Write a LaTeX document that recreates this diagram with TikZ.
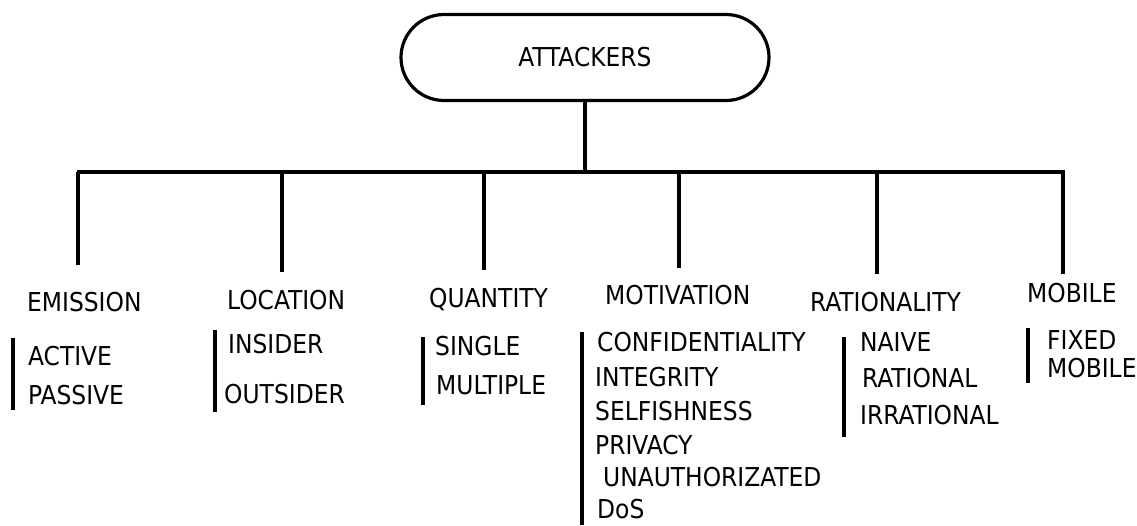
\documentclass[tikz,border=0pt]{standalone}
\usepackage{fontspec}
\setmainfont{DejaVu Sans Condensed}
\usetikzlibrary{shapes.misc}
\begin{document}
\begin{tikzpicture}[x=1pt,y=-1pt,
  txt/.style={anchor=west,inner sep=0pt,font=\fontsize{26}{29}\selectfont},
  wire/.style={line width=3.2pt},
  side/.style={line width=3.2pt},
  root/.style={rounded rectangle,draw,line width=3.2pt,minimum width=368pt,minimum height=86pt,inner sep=0pt,font=\fontsize{26}{29}\selectfont}]
\useasboundingbox (0,0) rectangle (1137,525);
% root
\node[root] (att) at (585,57.5) {ATTACKERS};
% bus
\coordinate (bus) at (585,172);
\coordinate (busL) at (76.5,172);
\coordinate (busR) at (1064.5,172);
\draw[wire] (att.south) -- (bus);
\draw[wire] (busL) -- (busR);
% category headings
\node[txt] (emi) at (27,302) {EMISSION};
\node[txt] (loc) at (227,300) {LOCATION};
\node[txt] (qua) at (429,300) {QUANTITY};
\node[txt] (mot) at (605,295) {MOTIVATION};
\node[txt] (rat) at (810,302) {RATIONALITY};
\node[txt] (mob) at (1027,293) {MOBILE};
% drops
\coordinate (d1) at (78,172);   \coordinate (e1) at (78,265);
\coordinate (d2) at (282,172);  \coordinate (e2) at (282,272);
\coordinate (d3) at (484,172);  \coordinate (e3) at (484,270);
\coordinate (d4) at (679,172);  \coordinate (e4) at (679,268);
\coordinate (d5) at (877,172);  \coordinate (e5) at (877,274);
\coordinate (d6) at (1063,172); \coordinate (e6) at (1063,274);
\foreach \i in {1,...,6} \draw[wire] (d\i) -- (e\i);
% emission
\node[txt] (act) at (28,356) {ACTIVE};
\node[txt] (pas) at (28,395) {PASSIVE};
\coordinate (s1a) at (13,338); \coordinate (s1b) at (13,410);
\draw[side] (s1a) -- (s1b);
% location
\node[txt] (ins) at (228,344) {INSIDER};
\node[txt] (out) at (224,394) {OUTSIDER};
\coordinate (s2a) at (215,330); \coordinate (s2b) at (215,412);
\draw[side] (s2a) -- (s2b);
% quantity
\node[txt] (sin) at (435,346) {SINGLE};
\node[txt] (mul) at (436,385) {MULTIPLE};
\coordinate (s3a) at (423,337); \coordinate (s3b) at (423,405);
\draw[side] (s3a) -- (s3b);
% motivation
\node[txt] (con) at (597,342) {CONFIDENTIALITY};
\node[txt] (int) at (595,377) {INTEGRITY};
\node[txt] (sel) at (595,411) {SELFISHNESS};
\node[txt] (pri) at (595,445) {PRIVACY};
\node[txt] (una) at (603,477) {UNAUTHORIZATED};
\node[txt] (dos) at (597,509) {DoS};
\coordinate (s4a) at (582,332); \coordinate (s4b) at (582,525);
\draw[side] (s4a) -- (s4b);
% rationality
\node[txt] (nai) at (860,342) {NAIVE};
\node[txt] (ral) at (862,378) {RATIONAL};
\node[txt] (irr) at (860,415) {IRRATIONAL};
\coordinate (s5a) at (844,337); \coordinate (s5b) at (844,437);
\draw[side] (s5a) -- (s5b);
% mobile
\node[txt] (fix) at (1047,340) {FIXED};
\node[txt] (mbl) at (1047,368) {MOBILE};
\coordinate (s6a) at (1028,328); \coordinate (s6b) at (1028,383);
\draw[side] (s6a) -- (s6b);
\end{tikzpicture}
\end{document}
